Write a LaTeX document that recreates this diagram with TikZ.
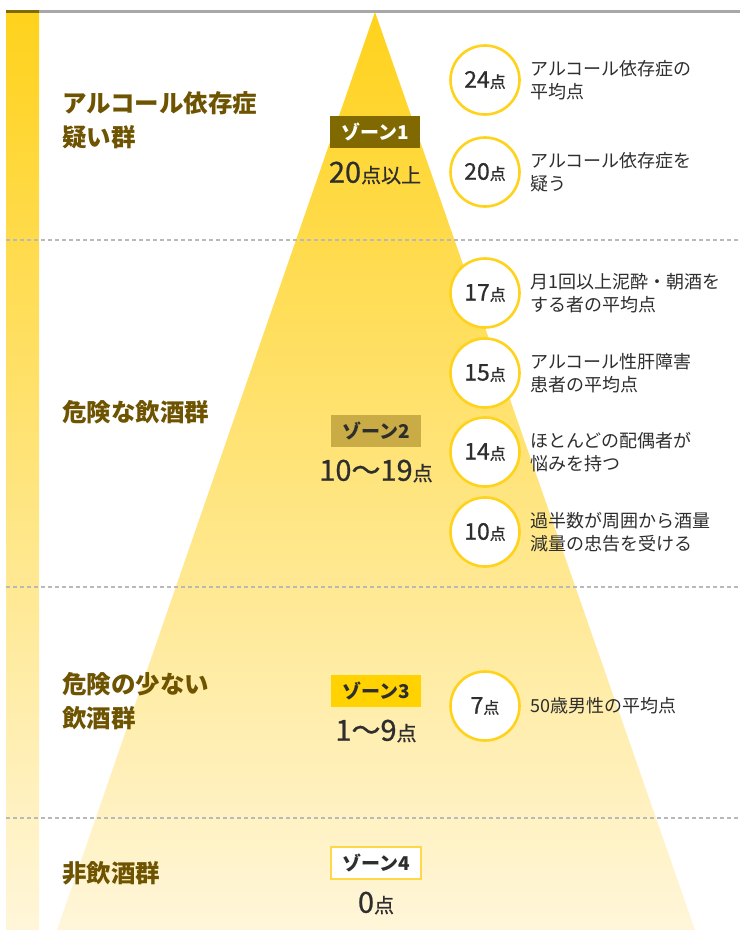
\documentclass[tikz,border=0pt]{standalone}
\usepackage{fontspec}
\setmainfont{Noto Sans CJK JP}
\newfontfamily\jpnum[FakeBold=0.8]{Noto Sans CJK JP}
\definecolor{ytop}{HTML}{FFD21C}
\definecolor{ybot}{HTML}{FFF6DA}
\definecolor{brownlab}{HTML}{6E5300}
\definecolor{zone1}{HTML}{806900}
\definecolor{zone2}{HTML}{C9AC45}
\definecolor{zone3}{HTML}{FFD200}
\definecolor{zone4line}{HTML}{FFD84A}
\definecolor{ring}{HTML}{FFD21C}
\definecolor{txt}{HTML}{2E2E2E}
\definecolor{rule}{HTML}{A8A8A8}
\tikzset{
  grouplab/.style={anchor=west,align=left,text=brownlab,font=\fontsize{24.5}{34}\selectfont\bfseries,inner sep=0pt},
  zonebox/.style={minimum width=90pt,minimum height=32pt,inner sep=0pt,font=\fontsize{19}{20}\selectfont\bfseries},
  zonepts/.style={inner sep=0pt,text=txt},
  ptcircle/.style={circle,draw=ring,line width=2.6pt,fill=white,minimum size=69pt,inner sep=0pt,text=txt},
  ptdesc/.style={anchor=west,align=left,text=txt,font=\fontsize{18}{23}\selectfont,inner sep=0pt},
  sepline/.style={draw=rule!80,line width=1.6pt,dash pattern=on 4pt off 3pt}
}
\newcommand{\bignum}[2]{{\jpnum\fontsize{29}{30}\selectfont #1}{\jpnum\fontsize{20}{20}\selectfont #2}}
\newcommand{\cnum}[1]{{\jpnum\fontsize{23}{24}\selectfont #1}{\jpnum\fontsize{16}{16}\selectfont 点}}
\begin{document}
\begin{tikzpicture}[x=1pt,y=-1pt]
\useasboundingbox (0,0) rectangle (740,930);
\fill[white] (0,0) rectangle (740,930);
% left bar
\shade[top color=ytop,bottom color=ybot] (6,12) rectangle (39,930);
% triangle
\coordinate (apex) at (375,12);
\coordinate (bl) at (57,930);
\coordinate (br) at (695,930);
\shade[top color=ytop,bottom color=ybot] (apex) -- (br) -- (bl) -- cycle;
% top rule
\draw[rule,line width=3pt] (6,11) -- (740,11);
\draw[zone1,line width=3pt] (6,11) -- (39,11);
% separators
\draw[sepline] (6,240) -- (740,240);
\draw[sepline] (6,587) -- (740,587);
\draw[sepline] (6,818) -- (740,818);
% group labels
\node[grouplab] (g1) at (62,120) {アルコール依存症\\疑い群};
\node[grouplab] (g2) at (62,412) {危険な飲酒群};
\node[grouplab] (g3) at (62,701) {危険の少ない\\飲酒群};
\node[grouplab] (g4) at (62,873) {非飲酒群};
% zones
\node[zonebox,fill=zone1,text=white] (z1) at (375,132) {ゾーン1};
\node[zonepts] (p1) at (375,173) {\bignum{20}{点以上}};
\node[zonebox,fill=zone2,text=txt] (z2) at (376,431) {ゾーン2};
\node[zonepts] (p2) at (376,471) {\bignum{10〜19}{点}};
\node[zonebox,fill=zone3,text=txt] (z3) at (376,691) {ゾーン3};
\node[zonepts] (p3) at (376,731) {\bignum{1〜9}{点}};
\node[zonebox,fill=white,draw=zone4line,line width=1.5pt,text=txt] (z4) at (376,863) {ゾーン4};
\node[zonepts] (p4) at (376,903) {\bignum{0}{点}};
% score circles
\node[ptcircle] (c1) at (485,80) {\cnum{24}};
\node[ptdesc] (d1) at (530,80) {アルコール依存症の\\平均点};
\node[ptcircle] (c2) at (485,172) {\cnum{20}};
\node[ptdesc] (d2) at (530,172) {アルコール依存症を\\疑う};
\node[ptcircle] (c3) at (485,293) {\cnum{17}};
\node[ptdesc] (d3) at (530,293) {月1回以上泥酔・朝酒を\\する者の平均点};
\node[ptcircle] (c4) at (485,373) {\cnum{15}};
\node[ptdesc] (d4) at (530,373) {アルコール性肝障害\\患者の平均点};
\node[ptcircle] (c5) at (485,452) {\cnum{14}};
\node[ptdesc] (d5) at (530,452) {ほとんどの配偶者が\\悩みを持つ};
\node[ptcircle] (c6) at (485,532) {\cnum{10}};
\node[ptdesc] (d6) at (530,532) {過半数が周囲から酒量\\減量の忠告を受ける};
\node[ptcircle] (c7) at (485,706) {\cnum{7}};
\node[ptdesc] (d7) at (530,706) {50歳男性の平均点};
\end{tikzpicture}
\end{document}
